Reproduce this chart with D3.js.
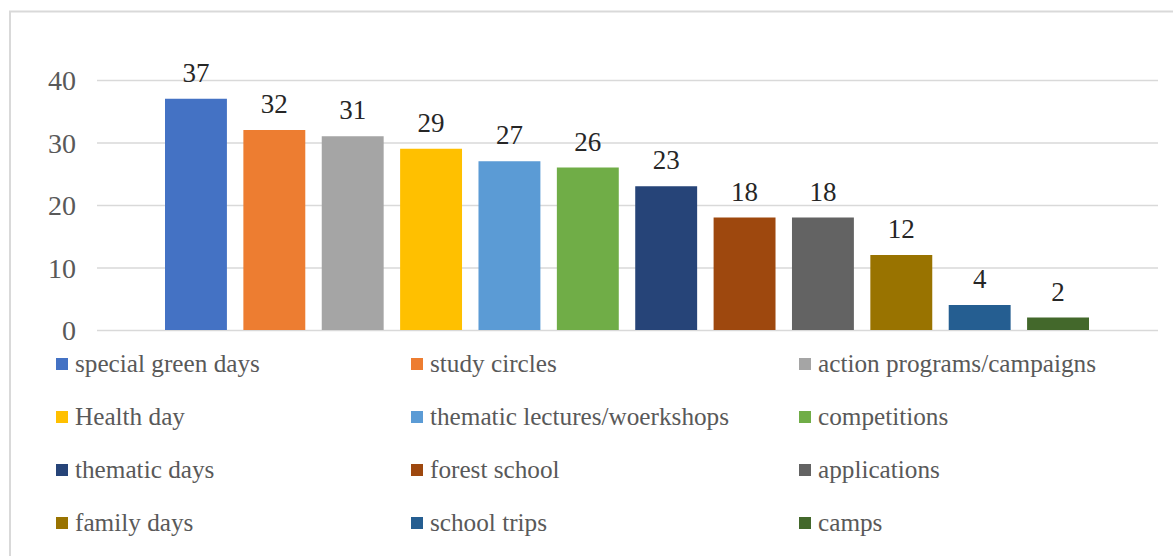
<!DOCTYPE html>
<html><head><meta charset="utf-8">
<script src="https://cdn.jsdelivr.net/npm/d3@7"></script>
<style>body{margin:0;background:#fff}svg{display:block}</style>
</head><body>
<script>
const categories = ["special green days","study circles","action programs/campaigns","Health day","thematic lectures/woerkshops","competitions","thematic days","forest school","applications","family days","school trips","camps"];
const values = [37,32,31,29,27,26,23,18,18,12,4,2];
const colors = ["#4472C4","#ED7D31","#A5A5A5","#FFC000","#5B9BD5","#70AD47","#264478","#9E480E","#636363","#997300","#255E91","#43682B"];
const yTicks = [0,10,20,30,40];

const W = 1173, H = 556;
const svg = d3.select("body").append("svg").attr("width", W).attr("height", H);
svg.append("rect").attr("x",10).attr("y",11.5).attr("width",1200).attr("height",600)
  .attr("fill","#fff").attr("stroke","#d9d9d9").attr("stroke-width",2);

const font = "'Liberation Serif', serif";
function fit(str, target, base){
  const t = svg.append("text").attr("font-family",font).attr("font-size",base).text(str);
  const w = t.node().getComputedTextLength(); t.remove();
  return base*target/w;
}
const legSize = fit("special green days",185,20);
const tickSize = fit("40",28,20);
const lblSize = fit("37",27,20);

const y = d3.scaleLinear().domain([0,40]).range([330,80]);
const x = d3.scaleBand().domain(categories).range([165,1089]).paddingInner(0.21).paddingOuter(0);

const g = svg.append("g");
g.selectAll("line.grid").data(yTicks).join("line").attr("class","grid")
  .attr("x1",97).attr("x2",1158).attr("y1",d=>y(d)+0.5).attr("y2",d=>y(d)+0.5)
  .attr("stroke","#d9d9d9").attr("stroke-width",1.5);

const yAxis = d3.axisLeft(y).tickValues(yTicks).tickSize(0).tickPadding(0);
const ya = svg.append("g").attr("transform","translate(76,0)").call(yAxis);
ya.select(".domain").remove();
ya.selectAll("text").attr("font-family",font).attr("font-size",tickSize).attr("fill","#595959").attr("dy","0.34em");

g.selectAll("rect.bar").data(categories).join("rect").attr("class","bar")
  .attr("x",d=>x(d)).attr("width",x.bandwidth())
  .attr("y",(d,i)=>y(values[i])).attr("height",(d,i)=>y(0)-y(values[i]))
  .attr("fill",(d,i)=>colors[i]);

g.selectAll("text.lbl").data(categories).join("text").attr("class","lbl")
  .attr("x",d=>x(d)+x.bandwidth()/2).attr("y",(d,i)=>y(values[i])-17)
  .attr("text-anchor","middle").attr("font-family",font).attr("font-size",lblSize).attr("fill","#262626")
  .text((d,i)=>values[i]);

const colX = [56,411,799], rowY = [364,417,470,523];
const leg = svg.append("g");
categories.forEach((c,i)=>{
  const cx = colX[i%3], cy = rowY[Math.floor(i/3)];
  leg.append("rect").attr("x",cx).attr("y",cy-6).attr("width",12).attr("height",12).attr("fill",colors[i]);
  leg.append("text").attr("x",cx+19).attr("y",cy).attr("dy","0.32em")
    .attr("font-family",font).attr("font-size",legSize).attr("fill","#595959").text(c);
});
</script>
</body></html>
